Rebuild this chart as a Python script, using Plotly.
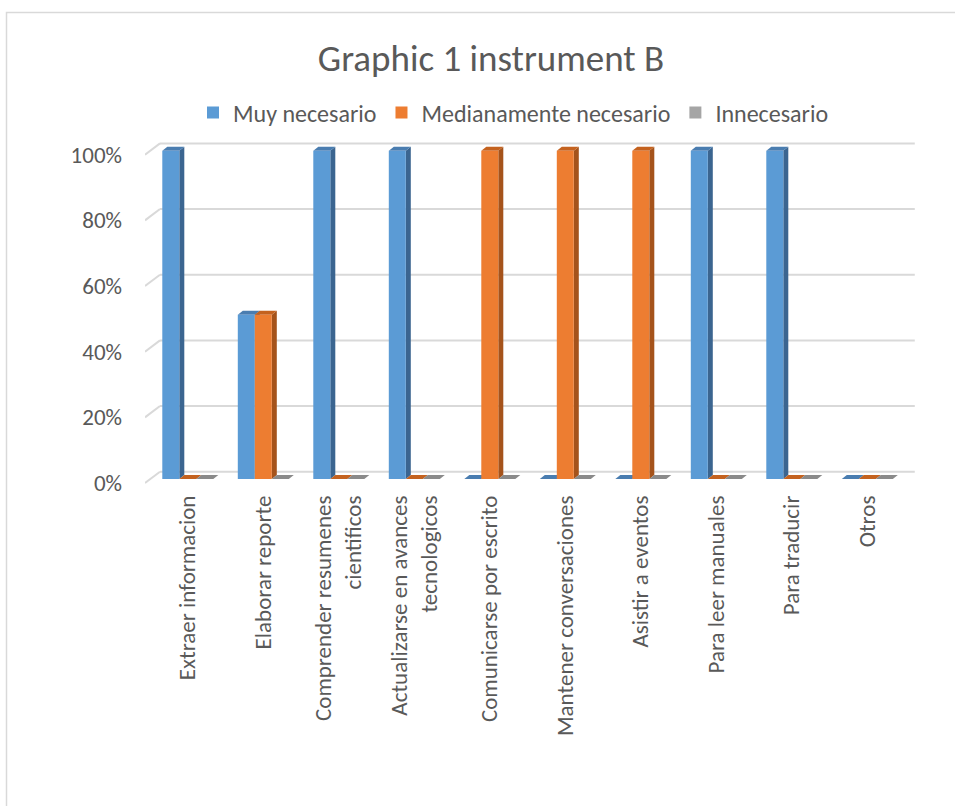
import plotly.graph_objects as go

categories = ["Extraer informacion", "Elaborar reporte", "Comprender resumenes<br>cientificos",
              "Actualizarse en avances<br>tecnologicos", "Comunicarse por escrito",
              "Mantener conversaciones", "Asistir a eventos", "Para leer manuales",
              "Para traducir", "Otros"]
muy = [1.0, 0.5, 1.0, 1.0, 0.0, 0.0, 0.0, 1.0, 1.0, 0.0]
medio = [0.0, 0.5, 0.0, 0.0, 1.0, 1.0, 1.0, 0.0, 0.0, 0.0]
innec = [0.0, 0.0, 0.0, 0.0, 0.0, 0.0, 0.0, 0.0, 0.0, 0.0]
series_names = ["Muy necesario", "Medianamente necesario", "Innecesario"]
ticks = [0, 0.2, 0.4, 0.6, 0.8, 1.0]

face = ["#5B9BD5", "#ED7D31", "#A5A5A5"]
top_c = ["#4A7DB0", "#C4621F", "#8A8A8A"]
side_c = ["#3B6590", "#A5531B", "#777777"]

FONT = "Carlito, Calibri, Lato, sans-serif"
TXT = "#595959"

W, H = 955, 806
L, R, T, B = 145, 40, 130, 316
pw, ph = W - L - R, H - T - B
# x scale: category spacing 75.5 px, first centre 187.8 px
xr = [(L - 187.8) / 75.5, (W - R - 187.8) / 75.5]
# bar-face plane: 0 -> 479 px, 1 -> 150.7 px
ys = 328.3
yr = [(479 - (H - B)) / ys, (479 - T) / ys]
# label (front) plane: 0 -> 483 px
yr2 = [(483 - (H - B)) / ys, (483 - T) / ys]

w = 17 / 75.5          # bar face width
ddx = 5 / 75.5         # bar depth in x
ddy = 4 / ys           # bar depth in y
gdx = 15 / 75.5        # wall depth in x
gdy = 11.3 / ys        # wall depth in y

fig = go.Figure()
shapes = []
# gridlines (front -> back wall), on y2 (front plane)
x_front = xr[0]
for t in ticks:
    shapes.append(dict(type="line", xref="x", yref="y2", x0=x_front, y0=t,
                       x1=x_front + gdx, y1=t + gdy, line=dict(color="#D9D9D9", width=2), layer="below"))
    shapes.append(dict(type="line", xref="x", yref="y2", x0=x_front + gdx, y0=t + gdy,
                       x1=xr[1] - 0.003, y1=t + gdy, line=dict(color="#D9D9D9", width=2), layer="below"))

data = [muy, medio, innec]
xs = list(range(len(categories)))
for i, vals in enumerate(data):
    off = -1.5 * w + i * w
    fig.add_trace(go.Bar(x=xs, y=vals, width=w, offset=off, name=series_names[i],
                         marker=dict(color=face[i], line=dict(width=0)), yaxis="y"))
    for j, v in enumerate(vals):
        x0 = j + off
        x1 = x0 + w
        # side face
        if v > 0:
            shapes.append(dict(type="path", xref="x", yref="y",
                               path=f"M{x1},{0} L{x1+ddx},{ddy} L{x1+ddx},{v+ddy} L{x1},{v} Z",
                               fillcolor=side_c[i], line=dict(width=0), layer="below"))
        # top face
        shapes.append(dict(type="path", xref="x", yref="y",
                           path=f"M{x0},{v} L{x0+ddx},{v+ddy} L{x1+ddx},{v+ddy} L{x1},{v} Z",
                           fillcolor=top_c[i], line=dict(width=0), layer="below"))

# invisible trace to activate y2
fig.add_trace(go.Scatter(x=[xr[0]], y=[0], yaxis="y2", mode="markers",
                         marker=dict(opacity=0), showlegend=False, hoverinfo="skip"))

# chart border
shapes.append(dict(type="rect", xref="paper", yref="paper",
                   x0=(6.5 - L) / pw, x1=(W + 10 - L) / pw,
                   y0=(H - B - (H + 10)) / ph, y1=(H - B - 12.5) / ph,
                   line=dict(color="#D9D9D9", width=1.5), layer="below"))

fig.update_layout(
    width=W, height=H,
    margin=dict(l=L, r=R, t=T, b=B),
    paper_bgcolor="white", plot_bgcolor="rgba(0,0,0,0)",
    barmode="overlay",
    font=dict(family=FONT, color=TXT, size=23),
    title=dict(text="Graphic 1 instrument B", x=491 / W, xref="container", xanchor="center",
               y=1 - 58 / H, yref="container", yanchor="middle",
               font=dict(family=FONT, size=37, color=TXT)),
    legend=dict(orientation="h", x=(W / 2 - L + 36) / pw, xanchor="center",
                y=(H - B - 113) / ph, yanchor="middle",
                font=dict(family=FONT, size=24, color=TXT), itemwidth=30,
                traceorder="normal"),
    xaxis=dict(range=xr, tickvals=xs, ticktext=categories, tickangle=-90,
               showgrid=False, zeroline=False, showline=False, ticks="",
               tickfont=dict(family=FONT, size=23, color=TXT)),
    yaxis=dict(range=yr, showgrid=False, zeroline=False, showticklabels=False, ticks=""),
    yaxis2=dict(range=yr2, overlaying="y", side="left", tickvals=ticks, tickformat=".0%",
                showgrid=False, zeroline=False, showline=False, ticks="",
                tickfont=dict(family=FONT, size=23, color=TXT), ticklabelstandoff=22),
    shapes=shapes,
    showlegend=True,
)

fig.write_html("out.html")
